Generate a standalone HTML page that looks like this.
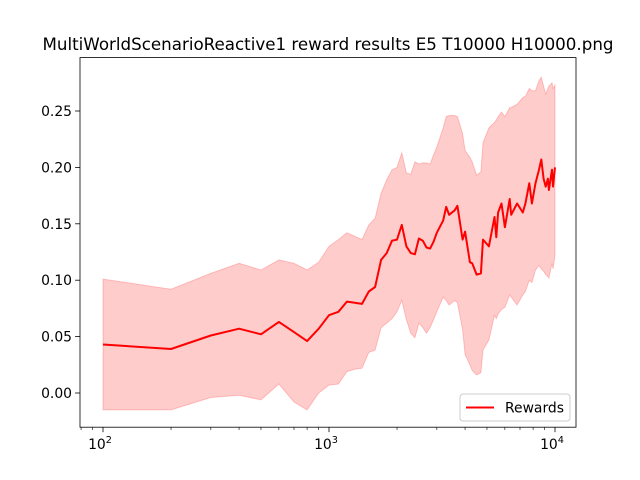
<!DOCTYPE html>
<html><head><meta charset="utf-8"><style>
body{margin:0;background:#fff}
svg{display:block;font-family:"DejaVu Sans","Liberation Sans",sans-serif}
</style></head><body>
<svg id="chart" width="640" height="480" viewBox="0 0 640 480">
<rect width="640" height="480" fill="#fff"/>
<text x="328" y="50" text-anchor="middle" font-size="16.7">MultiWorldScenarioReactive1 reward results E5 T10000 H10000.png</text>
<g id="plot"></g>
<rect x="80" y="57.6" width="496" height="369.6" fill="none" stroke="#000" stroke-width="0.8"/>
<g id="axes"></g>
<g>
<rect x="460" y="394" width="110" height="27" rx="3" fill="#fff" fill-opacity="0.8" stroke="#ccc" stroke-width="1"/>
<line x1="466" y1="407.5" x2="494" y2="407.5" stroke="red" stroke-width="2"/>
<text x="505" y="412.5" font-size="13.9">Rewards</text>
</g>
</svg>
<script>
const xs=[100,200,300,400,500,600,700,800,900,1000,1100,1200,1300,1400,1500,1600,1700,1800,1900,2000,2100,2200,2300,2400,2500,2600,2700,2800,2900,3000,3200,3300,3400,3600,3700,3900,4000,4200,4300,4500,4700,4800,5100,5400,5500,5600,5800,6000,6300,6400,6800,7200,7400,7700,7900,8200,8500,8700,8900,9100,9300,9400,9700,9800,10000];
const meanVals=[.043,.039,.051,.057,.052,.063,.054,.046,.057,.069,.072,.081,.080,.079,.090,.094,.118,.124,.135,.136,.149,.130,.124,.123,.137,.135,.129,.128,.134,.142,.153,.165,.158,.162,.166,.136,.143,.116,.115,.105,.106,.136,.130,.156,.138,.160,.168,.147,.172,.158,.168,.160,.168,.186,.168,.186,.198,.207,.190,.183,.190,.180,.198,.183,.200];
const upperVals=[.101,.092,.106,.115,.109,.118,.115,.109,.116,.130,.136,.142,.139,.136,.149,.155,.177,.189,.198,.200,.213,.195,.194,.205,.203,.204,.204,.203,.211,.218,.235,.245,.246,.246,.245,.230,.215,.209,.205,.193,.196,.222,.235,.240,.242,.245,.249,.245,.253,.253,.256,.262,.263,.270,.268,.268,.277,.280,.272,.265,.270,.272,.275,.270,.273];
const lowerVals=[-.015,-.015,-.004,-.002,-.006,.008,-.008,-.015,.0,.007,.008,.019,.021,.022,.036,.038,.058,.062,.066,.072,.082,.065,.053,.049,.062,.058,.053,.058,.065,.072,.085,.082,.078,.082,.080,.056,.034,.025,.020,.016,.018,.038,.047,.069,.066,.070,.074,.076,.087,.085,.078,.087,.090,.100,.098,.109,.113,.110,.108,.105,.103,.102,.115,.110,.122];
const yTicks=[0,0.05,0.10,0.15,0.20,0.25];
const yTickLabels=["0.00","0.05","0.10","0.15","0.20","0.25"];
const xMajor=[100,1000,10000];
const xMajorExp=["2","3","4"];

const NS="http://www.w3.org/2000/svg";
const X=v=>103+226*(Math.log10(v)-2);
const Y=v=>393-1128*v;
function mk(tag,attrs,parent){const e=document.createElementNS(NS,tag);for(const k in attrs)e.setAttribute(k,attrs[k]);parent.appendChild(e);return e;}
const plot=document.getElementById('plot'),axes=document.getElementById('axes');

let d="M"+xs.map((x,i)=>X(x).toFixed(1)+","+Y(upperVals[i]).toFixed(1)).join("L");
for(let i=xs.length-1;i>=0;i--)d+="L"+X(xs[i]).toFixed(1)+","+Y(lowerVals[i]).toFixed(1);
d+="Z";
const band=mk('path',{d:d,fill:'red','fill-opacity':0.2,stroke:'red','stroke-opacity':0.2,'stroke-width':1},plot);


const line=mk('path',{d:"M"+xs.map((x,i)=>X(x).toFixed(1)+","+Y(meanVals[i]).toFixed(1)).join("L"),fill:'none',stroke:'red','stroke-width':2,'stroke-linejoin':'round'},plot);



yTicks.forEach((t,i)=>{
  const y=Y(t);
  mk('line',{x1:80,x2:75.1,y1:y,y2:y,stroke:'#000','stroke-width':0.8},axes);
  const tx=mk('text',{x:72,y:y+5,'text-anchor':'end','font-size':13.9},axes);
  
  
  tx.textContent=yTickLabels[i];
});
xMajor.forEach((t,i)=>{
  const x=X(t);
  mk('line',{x1:x,x2:x,y1:427.2,y2:432.1,stroke:'#000','stroke-width':0.8},axes);
  const tx=mk('text',{x:x-3,y:449,'text-anchor':'middle','font-size':13.9},axes);
  
  
  tx.textContent="10";
  const sp=mk('tspan',{'font-size':9.7,dy:-6},tx);
  sp.textContent=xMajorExp[i];
});
[10].concat([]).forEach(()=>{});
for(let dec=10;dec<=10000;dec*=10){for(let m=2;m<=9;m++){const v=dec*m;const x=X(v);if(x<80||x>576)continue;
  mk('line',{x1:x,x2:x,y1:427.2,y2:430,stroke:'#000','stroke-width':0.6},axes);}}
</script>
</body></html>
